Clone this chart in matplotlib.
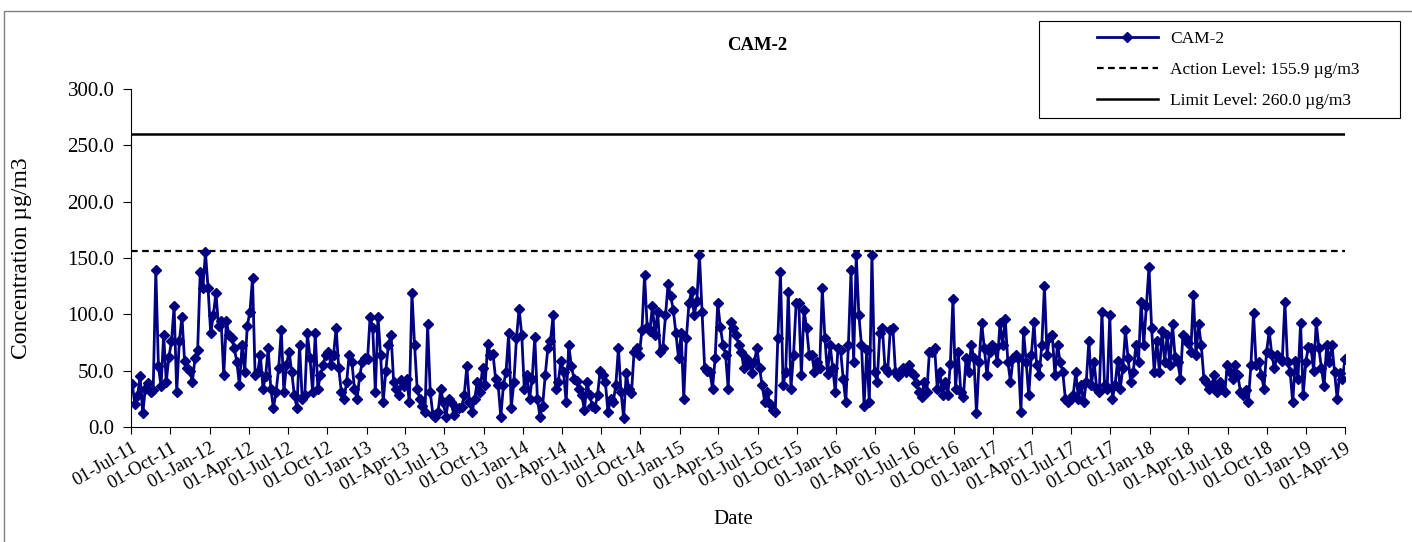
import matplotlib
matplotlib.use('Agg')
import matplotlib.pyplot as plt
import matplotlib.dates as mdates
from matplotlib.patches import Rectangle
import pandas as pd

# -------------------- DATA --------------------
# concentration readings (ug/m3), about 15 readings per quarter
conc_2011 = [38, 20, 28, 45, 12, 34, 39, 31, 33, 139, 54, 36, 82, 40, 62,
             76, 107, 31, 76, 98, 59, 52, 50, 40, 61, 68, 138, 123, 155, 123]
conc_2012 = [83, 99, 119, 90, 94, 46, 94, 82, 79, 70, 58, 37, 73, 49, 90,
             102, 132, 46, 49, 64, 34, 45, 70, 34, 17, 31, 52, 86, 31, 55,
             67, 49, 28, 17, 73, 25, 28, 83, 61, 31, 83, 34, 46, 55, 64,
             67, 55, 64, 88, 52, 31, 25, 40, 64, 58, 34, 25, 45, 58, 61]
conc_2013 = [60, 98, 88, 31, 98, 64, 22, 50, 73, 82, 40, 34, 28, 42, 36,
             43, 22, 119, 73, 34, 25, 19, 13, 91, 31, 11, 9, 13, 34, 22,
             9, 25, 22, 11, 17, 17, 18, 28, 54, 22, 13, 25, 40, 31, 52,
             37, 74, 64, 65, 43, 37, 9, 37, 49, 83, 17, 40, 79, 105, 82]
conc_2014 = [34, 46, 25, 43, 80, 25, 9, 19, 46, 70, 76, 99, 34, 40, 59,
             49, 22, 73, 54, 43, 41, 34, 28, 15, 40, 28, 19, 17, 28, 50,
             46, 40, 13, 25, 22, 37, 70, 31, 8, 48, 34, 30, 67, 70, 64,
             86, 135, 89, 85, 107, 82, 102, 67, 70, 99, 127, 116, 104, 83, 61]
conc_2015 = [83, 25, 79, 110, 121, 99, 112, 153, 102, 52, 50, 49, 34, 61, 110,
             89, 73, 64, 34, 93, 88, 82, 73, 67, 52, 61, 58, 48, 58, 70,
             52, 37, 22, 31, 20, 15, 13, 79, 138, 37, 49, 120, 34, 64, 110,
             110, 46, 104, 88, 64, 64, 49, 58, 52, 123, 79, 47, 73, 52, 31]
conc_2016 = [70, 68, 43, 22, 73, 139, 58, 153, 99, 73, 19, 68, 22, 153, 49,
             40, 83, 88, 52, 49, 86, 88, 49, 45, 49, 52, 49, 55, 49, 46,
             39, 31, 27, 40, 31, 67, 67, 70, 34, 49, 28, 40, 28, 56, 114,
             34, 67, 31, 27, 61, 49, 73, 61, 12, 58, 92, 70, 46, 67, 73]
conc_2017 = [70, 58, 92, 73, 96, 58, 40, 61, 64, 61, 13, 85, 58, 28, 64,
             93, 55, 46, 73, 125, 64, 80, 82, 46, 73, 58, 49, 25, 22, 25,
             28, 49, 25, 37, 22, 40, 76, 37, 58, 34, 31, 102, 37, 34, 99,
             25, 37, 59, 34, 52, 86, 61, 40, 49, 73, 58, 111, 73, 107, 142]
conc_2018 = [88, 49, 76, 49, 85, 58, 82, 55, 91, 62, 58, 43, 82, 79, 75,
             67, 117, 64, 91, 73, 43, 40, 34, 37, 46, 31, 40, 34, 31, 55,
             49, 43, 55, 46, 31, 28, 33, 22, 55, 101, 55, 58, 46, 34, 67,
             85, 64, 52, 64, 61, 59, 111, 58, 49, 22, 59, 43, 92, 28, 58]
conc_2019 = [71, 70, 50, 93, 70, 52, 36, 73, 58, 73, 49, 25, 48, 43, 60]

action_level = 155.9
limit_level = 260.0
first_day = "2011-07-04"
last_day = "2019-04-01"
axis_start = "2011-07-01"
axis_end = "2019-04-01"

# -------------------- SERIES --------------------
conc = (conc_2011 + conc_2012 + conc_2013 + conc_2014 + conc_2015
        + conc_2016 + conc_2017 + conc_2018 + conc_2019)
dates = pd.date_range(first_day, last_day, periods=len(conc))
x_range = pd.to_datetime([axis_start, axis_end])

# -------------------- GRAPH --------------------
plt.rcParams['font.family'] = ['Liberation Serif', 'DejaVu Serif']

fig = plt.figure(figsize=(14.12, 5.42), dpi=100)
ax = fig.add_axes([131 / 1412, 1 - 427 / 542, 1214 / 1412, 338 / 542])

ax.plot(dates, conc, color="#000080", linewidth=2, marker="D",
        markersize=5.5, markeredgecolor="#000080", label="CAM-2", zorder=3)
ax.plot(x_range, [action_level, action_level], color="black",
        linestyle=(0, (3, 2)), linewidth=1.6,
        label="Action Level: 155.9 \u00b5g/m3")
ax.plot(x_range, [limit_level, limit_level], color="black", linewidth=1.8,
        label="Limit Level: 260.0 \u00b5g/m3")

ax.set_xlim(x_range[0], x_range[1])
ax.set_ylim(0, 300)
ax.set_yticks([0, 50, 100, 150, 200, 250, 300])
ax.yaxis.set_major_formatter(plt.FuncFormatter(lambda v, p: "%.1f" % v))
ax.xaxis.set_major_locator(mdates.MonthLocator(bymonth=[1, 4, 7, 10]))
ax.xaxis.set_major_formatter(mdates.DateFormatter("%d-%b-%y"))

for lab in ax.get_xticklabels():
    lab.set_rotation(30)
    lab.set_ha("right")
    lab.set_rotation_mode("anchor")

ax.tick_params(axis="y", labelsize=15, length=6, direction="out", pad=6)
ax.tick_params(axis="x", labelsize=13.5, length=5, direction="out", pad=4)
ax.spines["top"].set_visible(False)
ax.spines["right"].set_visible(False)

ax.set_ylabel("Concentration \u00b5g/m3", fontsize=17, labelpad=10)
ax.yaxis.set_label_coords(-(131 - 32) / 1214, 0.5)
fig.text(733 / 1412, 1 - 519 / 542, "Date", fontsize=15,
         ha="center", va="center")
fig.text(757 / 1412, 1 - 45 / 542, "CAM-2", fontsize=13.5, fontweight="bold",
         ha="center", va="center")

# chart border (cropped at right and bottom)
fig.patches.append(Rectangle((4 / 1412, -0.05), 1.2, 1.05 - 11 / 542,
                             transform=fig.transFigure, fill=False,
                             edgecolor="#808080", linewidth=1))
# legend box
fig.patches.append(Rectangle((1039 / 1412, 1 - 118 / 542), 361 / 1412,
                             97 / 542, transform=fig.transFigure, fill=False,
                             edgecolor="black", linewidth=0.8))

fig.legend(loc="upper left", bbox_to_anchor=(1097 / 1412, 1 - 31 / 542),
           frameon=False, fontsize=12.5, handlelength=3.5, handletextpad=0.7,
           labelspacing=0.85, borderpad=0, borderaxespad=0)

plt.savefig("out.png", dpi=100)
plt.close()
